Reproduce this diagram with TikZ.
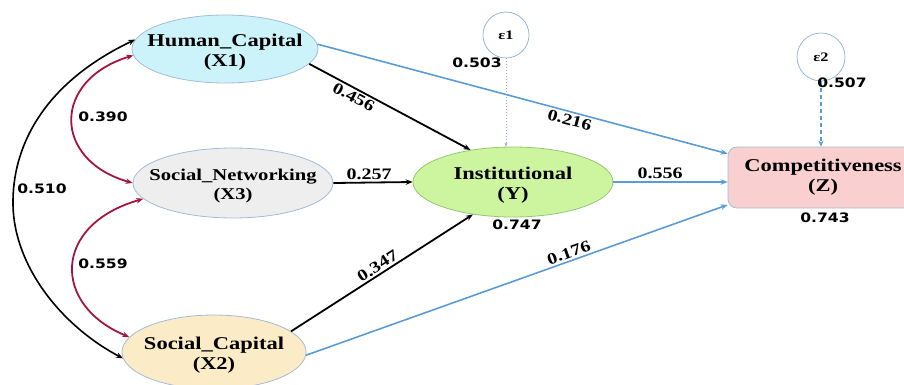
\documentclass[tikz,border=0pt]{standalone}
\usepackage{fontspec}
\newfontfamily\serifst[FakeStretch=1.25]{Liberation Serif}
\newfontfamily\sansst[FakeStretch=1.2]{DejaVu Sans}
\usetikzlibrary{arrows.meta,shapes.geometric}
\definecolor{hcfill}{HTML}{CDF3FA}
\definecolor{snfill}{HTML}{EEEEEE}
\definecolor{scfill}{HTML}{FCEBC7}
\definecolor{infill}{HTML}{CDF5A0}
\definecolor{cofill}{HTML}{F9CFCF}
\definecolor{bord}{HTML}{A3BCD6}
\definecolor{inbord}{HTML}{93C872}
\definecolor{pathblue}{HTML}{5B9BD5}
\definecolor{crim}{HTML}{A3153F}
\definecolor{errline}{HTML}{8FAFD0}
\begin{document}
\begin{tikzpicture}[x=1pt,y=-1pt,
  lat/.style={ellipse, draw=bord, line width=0.8pt, inner sep=0pt},
  ntext/.style={align=center, inner sep=0pt, font=\serifst\bfseries\fontsize{18}{20}\selectfont},
  ntextsm/.style={align=center, inner sep=0pt, font=\serifst\bfseries\fontsize{16.5}{19}\selectfont},
  errc/.style={circle, draw=errline, line width=0.7pt, fill=white, minimum size=46pt, inner sep=0pt, font=\serifst\bfseries\fontsize{13}{14}\selectfont},
  numsans/.style={inner sep=0pt, font=\sansst\bfseries\fontsize{13}{14}\selectfont},
  numserif/.style={inner sep=2pt, font=\serifst\bfseries\fontsize{16}{17}\selectfont},
  arr/.style={-{Stealth[length=7pt,width=5.5pt]}},
  blk/.style={arr, draw=black, line width=1.8pt},
  blu/.style={arr, draw=pathblue, line width=1.6pt},
  cor/.style={{Stealth[length=7pt,width=5.5pt]}-{Stealth[length=7pt,width=5.5pt]}, draw=crim, line width=1.8pt},
  corb/.style={{Stealth[length=7pt,width=5.5pt]}-{Stealth[length=7pt,width=5.5pt]}, draw=black, line width=1.6pt}
]
\useasboundingbox (0,0) rectangle (904,385);
\clip (0,0) rectangle (904,385);

% latent variables
\node[lat, fill=hcfill, minimum width=186pt, minimum height=68pt,
  label={[ntext, yshift=-3pt]center:Human\_Capital\\(X1)}] (hc) at (225,49) {};
\node[lat, fill=snfill, minimum width=200pt, minimum height=70pt,
  label={[ntextsm, yshift=-3pt]center:Social\_Networking\\(X3)}] (sn) at (233,183) {};
\node[lat, fill=scfill, minimum width=184pt, minimum height=74pt,
  label={[ntext, yshift=-3pt]center:Social\_Capital\\(X2)}] (sc) at (214,352) {};
\node[lat, fill=infill, draw=inbord, minimum width=200pt, minimum height=70pt,
  label={[ntext, yshift=-3pt]center:Institutional\\(Y)}] (inst) at (513,182) {};
\node[rectangle, rounded corners=9pt, draw=bord, line width=0.8pt, fill=cofill,
  minimum width=190pt, minimum height=61pt,
  label={[ntext]center:Competitiveness\\(Z)}] (comp) at (823,177.5) {};

% error terms
\node[errc] (e1) at (506,35) {ε1};
\node[errc, minimum size=48pt] (e2) at (821,57) {ε2};

% error paths
\draw[-{Stealth[length=4pt,width=3pt]}, draw=errline, line width=1pt, dotted] (e1.south) -- (e1.south |- inst.north);
\draw[-{Stealth[length=6pt,width=5pt]}, draw=pathblue, line width=1.5pt, dash pattern=on 4pt off 3pt] (e2.south) -- (e2.south |- comp.north);

% structural paths
\draw[blk] (hc.-10) -- node[numserif, pos=0.3, sloped, below] {0.456} (inst.143);
\draw[blu] (hc.3) -- node[numserif, pos=0.62, sloped, below] {0.216} (comp.166);
\draw[blk] (sn.east) -- node[numserif, pos=0.45, above] {0.257} (inst.west);
\draw[blk] (sc.15) -- node[numserif, pos=0.5, sloped, above] {0.347} (inst.219);
\draw[blu] (sc.-2) -- node[numserif, pos=0.63, sloped, above] {0.176} (comp.196);
\draw[blu] (inst.east) -- node[numserif, pos=0.41, above] {0.556} (inst.east -| comp.west);

% correlations
\draw[cor] (hc.184) .. controls (52,80) and (52,160) .. (sn.180);
\draw[cor] (sn.190) .. controls (52,225) and (52,305) .. (sc.170);
\draw[corb] (hc.174) .. controls (40,85) and (12,150) .. (13,205) .. controls (14,265) and (60,325) .. (sc.184);

% value labels
\node[numsans] (l390) at (103,117) {0.390};
\node[numsans] (l559) at (103,264) {0.559};
\node[numsans] (l510) at (42,189) {0.510};
\node[numsans] (l503) at (477,63) {0.503};
\node[numsans] (l507) at (842,83) {0.507};
\node[numsans] (l747) at (517,225) {0.747};
\node[numsans] (l743) at (825,218) {0.743};
\end{tikzpicture}
\end{document}
